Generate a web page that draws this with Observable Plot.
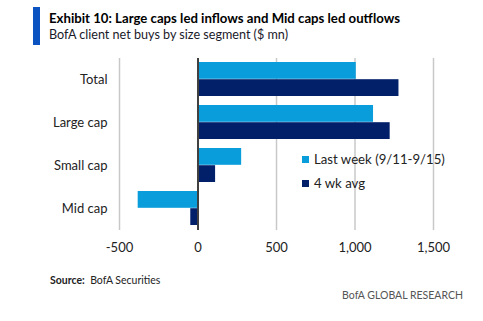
<!DOCTYPE html>
<html>
<head>
<meta charset="utf-8">
<script src="https://cdn.jsdelivr.net/npm/d3@7"></script>
<script src="https://cdn.jsdelivr.net/npm/@observablehq/plot@0.6"></script>
<style>
  body { margin: 0; background: #fff; }
  #wrap { position: relative; width: 483px; height: 321px; font-family: Lato, sans-serif; overflow: hidden; }
  #wrap svg { position: absolute; left: 0; top: 0; }
  .ov { position: absolute; white-space: nowrap; line-height: 1; }
  #bar { position: absolute; left: 33px; top: 7px; width: 7px; height: 38px; background: #0b53c1; }
  #title { left: 49px; top: 12px; font-size: 13.2px; font-weight: bold; color: #000; }
  #subtitle { left: 49px; top: 29px; font-size: 12.6px; color: #1a1a2a; }
  #source { left: 50px; top: 275px; font-size: 10.5px; color: #222; }
  #brand { right: 20px; top: 290px; font-size: 10.5px; color: #555; }
  .leg { font-size: 13.2px; color: #222; }
  .sw { position: absolute; width: 7px; height: 7px; }
</style>
</head>
<body>
<div id="wrap">
  <div id="bar"></div>
  <div class="ov" id="title">Exhibit 10: Large caps led inflows and Mid caps led outflows</div>
  <div class="ov" id="subtitle">BofA client net buys by size segment ($ mn)</div>
  <div class="ov" id="source"><b>Source:</b>&nbsp; BofA Securities</div>
  <div class="ov" id="brand">BofA GLOBAL RESEARCH</div>
</div>
<script>
const categories = ["Total", "Large cap", "Small cap", "Mid cap"];
const seriesNames = ["Last week (9/11-9/15)", "4 wk avg"];
const lastWeek = [1008, 1118, 278, -381];
const fourWeekAvg = [1280, 1224, 112, -46];
const xTicks = [-500, 0, 500, 1000, 1500];
const colors = ["#0a9ddb", "#02206a"];

const lw = categories.map((c, i) => ({category: c, value: lastWeek[i]}));
const fw = categories.map((c, i) => ({category: c, value: fourWeekAvg[i]}));

const W = 483, H = 321, mTop = 58, mBottom = 91, mLeft = 119, mRight = 50;
const band = (H - mTop - mBottom) / 4 * 0.8;
const half = band / 2;

const chart = Plot.plot({
  width: W,
  height: H,
  marginTop: mTop,
  marginBottom: mBottom,
  marginLeft: mLeft,
  marginRight: mRight,
  style: {fontFamily: 'Lato, sans-serif', fontSize: "13px", color: "#222", background: "transparent"},
  x: {domain: [-500, 1500], ticks: xTicks, tickFormat: d => d.toLocaleString("en-US"), tickSize: 0, tickPadding: 12, label: null},
  y: {domain: categories, paddingInner: 0.2, paddingOuter: 0.1, tickSize: 0, tickPadding: 12, label: null},
  marks: [
    Plot.ruleX(xTicks, {stroke: "#c8c8c8", strokeWidth: 1.5}),
    Plot.barX(lw, {x: "value", y: "category", fill: colors[0], insetBottom: half}),
    Plot.barX(fw, {x: "value", y: "category", fill: colors[1], insetTop: half}),
    Plot.ruleX([0], {stroke: "#404040", strokeWidth: 2})
  ]
});
const wrap = document.getElementById("wrap");
wrap.insertBefore(chart, wrap.firstChild);

// legend
const legY = [160, 184];
seriesNames.forEach((name, i) => {
  const sw = document.createElement("div");
  sw.className = "sw";
  sw.style.left = "302px";
  sw.style.top = (legY[i] - 4) + "px";
  sw.style.background = colors[i];
  wrap.appendChild(sw);
  const t = document.createElement("div");
  t.className = "ov leg";
  t.style.left = "314px";
  t.style.top = (legY[i] - 7) + "px";
  t.textContent = name;
  wrap.appendChild(t);
});
</script>
</body>
</html>
